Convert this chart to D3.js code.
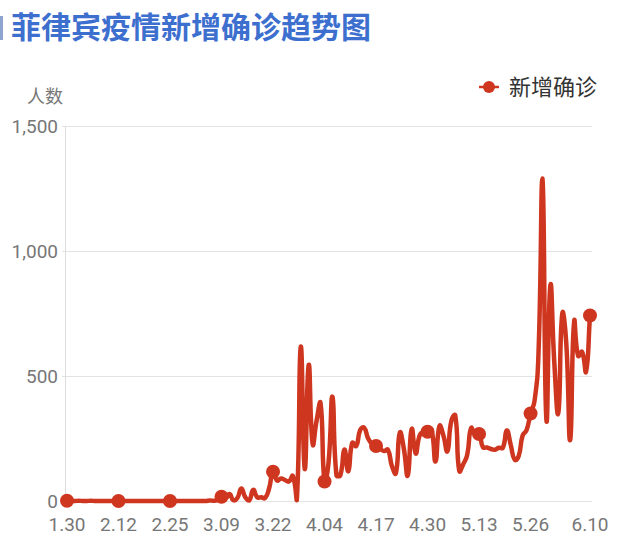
<!DOCTYPE html>
<html>
<head>
<meta charset="utf-8">
<script src="https://cdn.jsdelivr.net/npm/d3@7"></script>
<style>
  html, body { margin: 0; padding: 0; background: #ffffff; }
  svg { display: block; }
  text { font-family: Roboto, "Noto Sans CJK SC", "Noto Sans", sans-serif; }
</style>
</head>
<body>
<div id="chart"></div>
<script>
// ---- data (daily new confirmed cases, 2020-01-30 .. 2020-06-10) ----
const startDate = "2020-01-30";
const endDate = "2020-06-10";
const janValues = [1, 0];
const febValues = [0, 1, 0, 0, 1, 0, 0, 0, 0, 0, 0, 0, 0, 0, 0, 0, 0, 0, 0, 0, 0, 0, 0, 0, 0, 0, 0, 0, 0];
const marValues = [0, 0, 0, 0, 0, 2, 1, 4, 17, 9, 28, 3, 12, 50, 15, 3, 45, 15, 15, 12, 50, 117, 82, 90, 84, 78, 100, 3, 617, 128, 544];
const aprValues = [227, 322, 391, 78, 152, 417, 104, 104, 206, 119, 233, 220, 284, 293, 250, 228, 220, 209, 200, 205, 140, 111, 273, 211, 102, 288, 190, 262, 278, 277];
const mayValues = [284, 158, 300, 262, 199, 320, 342, 120, 147, 184, 292, 264, 268, 215, 214, 208, 205, 213, 213, 282, 224, 165, 180, 262, 284, 350, 400, 590, 1290, 324, 862];
const junValues = [552, 352, 750, 634, 244, 718, 580, 597, 517, 742];

const xTickLabels = ["1.30", "2.12", "2.25", "3.09", "3.22", "4.04", "4.17", "4.30", "5.13", "5.26", "6.10"];
const yTickValues = [0, 500, 1000, 1500];

const titleText = "菲律宾疫情新增确诊趋势图";
const yAxisName = "人数";
const seriesName = "新增确诊";

// ---- build series ----
const values = [].concat(janValues, febValues, marValues, aprValues, mayValues, junValues);
const parseISO = d3.timeParse("%Y-%m-%d");
const dates = d3.timeDay.range(parseISO(startDate), d3.timeDay.offset(parseISO(endDate), 1));
const series = dates.map((d, i) => ({ date: d, value: values[i] }));
const parseTick = d3.timeParse("%Y.%m.%d");
const tickDates = xTickLabels.map(s => parseTick("2020." + s));
const byTime = new Map(series.map(p => [+p.date, p]));
const markerPoints = tickDates.map(d => byTime.get(+d));

// ---- smooth curve (bezier with control points from neighbours, like a "smooth" line chart) ----
function SmoothCurve(context) { this._context = context; }
SmoothCurve.prototype = {
  areaStart() {}, areaEnd() {},
  lineStart() { this._pts = []; },
  point(px, py) { this._pts.push([+px, +py]); },
  lineEnd() {
    const pts = this._pts, n = pts.length, ctx = this._context, s = 0.5;
    if (!n) return;
    const xs = pts.map(p => p[0]), ys = pts.map(p => p[1]);
    const x0 = d3.min(xs), x1 = d3.max(xs), y0 = d3.min(ys), y1 = d3.max(ys);
    const clamp = (v, a, b) => Math.max(a, Math.min(b, v));
    ctx.moveTo(pts[0][0], pts[0][1]);
    let c0 = pts[0].slice();
    for (let i = 1; i < n; i++) {
      const p = pts[i], pr = pts[i - 1], nx = pts[Math.min(i + 1, n - 1)];
      const vx = nx[0] - pr[0], vy = nx[1] - pr[1];
      const lp = Math.hypot(p[0] - pr[0], p[1] - pr[1]);
      const ln = Math.hypot(p[0] - nx[0], p[1] - nx[1]);
      const r = (lp + ln) > 0 ? ln / (lp + ln) : 0.5;
      const c1 = [clamp(p[0] - vx * s * (1 - r), x0, x1), clamp(p[1] - vy * s * (1 - r), y0, y1)];
      ctx.bezierCurveTo(c0[0], c0[1], c1[0], c1[1], p[0], p[1]);
      c0 = [clamp(p[0] + vx * s * r, x0, x1), clamp(p[1] + vy * s * r, y0, y1)];
    }
  }
};
const smoothCurve = ctx => new SmoothCurve(ctx);

// ---- layout ----
const W = 625, H = 540;
const lineColor = "#cf3620";
const svg = d3.select("#chart").append("svg").attr("width", W).attr("height", H);

const x = d3.scaleTime().domain([dates[0], dates[dates.length - 1]]).range([67, 590]);
const y = d3.scaleLinear().domain([0, 1500]).range([501, 126]);

// title
svg.append("rect").attr("x", 0).attr("y", 16).attr("width", 3).attr("height", 24).attr("fill", "#8fa3cf");
svg.append("text").attr("x", 11).attr("y", 38)
  .attr("font-size", 30).attr("font-weight", "bold")
  .attr("font-family", "'Noto Sans CJK SC', sans-serif")
  .attr("fill", "#3d6fcf").text(titleText);

// grid lines
svg.append("g").selectAll("line").data(yTickValues).join("line")
  .attr("x1", 62).attr("x2", 592)
  .attr("y1", d => y(d) + 0.5).attr("y2", d => y(d) + 0.5)
  .attr("stroke", "#e3e3e3").attr("stroke-width", 1);

// y axis line
svg.append("line").attr("x1", 65.5).attr("x2", 65.5)
  .attr("y1", y(1500)).attr("y2", y(0))
  .attr("stroke", "#dcdcdc").attr("stroke-width", 1);

// y axis labels
svg.append("g").selectAll("text").data(yTickValues).join("text")
  .attr("x", 58).attr("y", d => y(d))
  .attr("dy", "0.35em").attr("text-anchor", "end")
  .attr("font-size", 19).attr("fill", "#777777")
  .text(d => d3.format(",")(d));

// y axis name
svg.append("text").attr("x", 45).attr("y", 103)
  .attr("text-anchor", "middle").attr("font-size", 18)
  .attr("font-family", "'Noto Sans CJK SC', sans-serif")
  .attr("fill", "#777777").text(yAxisName);

// x axis labels
svg.append("g").selectAll("text").data(tickDates).join("text")
  .attr("x", d => x(d)).attr("y", 531)
  .attr("text-anchor", "middle").attr("font-size", 19).attr("fill", "#777777")
  .text((d, i) => xTickLabels[i]);

// line
const line = d3.line()
  .x(d => x(d.date)).y(d => y(d.value))
  .curve(smoothCurve);
svg.append("path").datum(series)
  .attr("d", line).attr("fill", "none")
  .attr("stroke", lineColor).attr("stroke-width", 4.5)
  .attr("stroke-linejoin", "round").attr("stroke-linecap", "round");

// markers
svg.append("g").selectAll("circle").data(markerPoints).join("circle")
  .attr("cx", d => x(d.date)).attr("cy", d => y(d.value)).attr("r", 7)
  .attr("fill", lineColor);

// legend
const lg = svg.append("g").attr("transform", "translate(489,87)");
lg.append("line").attr("x1", -10).attr("x2", 10).attr("y1", 0).attr("y2", 0)
  .attr("stroke", lineColor).attr("stroke-width", 2.5);
lg.append("circle").attr("r", 6).attr("fill", lineColor);
lg.append("text").attr("x", 20).attr("y", 0).attr("dy", "0.35em")
  .attr("font-size", 22).attr("font-family", "'Noto Sans CJK SC', sans-serif")
  .attr("fill", "#333333").text(seriesName);
</script>
</body>
</html>
